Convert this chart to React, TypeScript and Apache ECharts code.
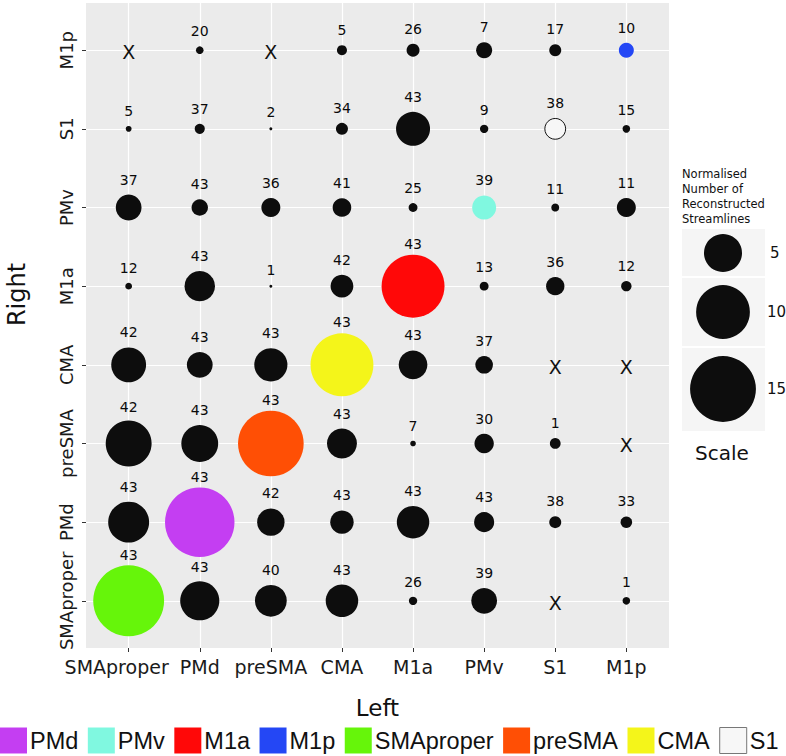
import React, { useEffect, useRef } from "react";
import * as echarts from "echarts";

// Regions (x = Left hemisphere, y = Right hemisphere), bottom-to-top on y
const regions = ["SMAproper", "PMd", "preSMA", "CMA", "M1a", "PMv", "S1", "M1p"];

// Number of subjects (out of 43) — rows are Right regions (same order as `regions`), columns are Left regions; null = X
const countSMAproper = [43, 43, 40, 43, 26, 39, null, 1];
const countPMd = [43, 43, 42, 43, 43, 43, 38, 33];
const countPreSMA = [42, 43, 43, 43, 7, 30, 1, null];
const countCMA = [42, 43, 43, 43, 43, 37, null, null];
const countM1a = [12, 43, 1, 42, 43, 13, 36, 12];
const countPMv = [37, 43, 36, 41, 25, 39, 11, 11];
const countS1 = [5, 37, 2, 34, 43, 9, 38, 15];
const countM1p = [null, 20, null, 5, 26, 7, 17, 10];

// Normalised number of reconstructed streamlines (bubble size)
const sizeSMAproper = [17.4, 5.3, 3.5, 3.65, 0.24, 2.3, null, 0.2];
const sizePMd = [5.8, 16.7, 2.6, 1.9, 3.65, 1.4, 0.5, 0.46];
const sizePreSMA = [7.3, 4.7, 14.9, 3.1, 0.11, 1.3, 0.4, null];
const sizeCMA = [4.2, 2.3, 3.8, 13.7, 2.85, 1.07, null, null];
const sizeM1a = [0.16, 3.2, 0.03, 1.8, 13.7, 0.27, 1.16, 0.37];
const sizePMv = [2.3, 0.93, 1.25, 1.2, 0.27, 2.0, 0.22, 1.25];
const sizeS1 = [0.12, 0.35, 0.03, 0.5, 4.0, 0.24, 1.5, 0.2];
const sizeM1p = [null, 0.2, null, 0.35, 0.58, 0.89, 0.5, 0.78];

const countRows = [countSMAproper, countPMd, countPreSMA, countCMA, countM1a, countPMv, countS1, countM1p];
const sizeRows = [sizeSMAproper, sizePMd, sizePreSMA, sizeCMA, sizeM1a, sizePMv, sizeS1, sizeM1p];

// Diagonal colours (legend)
const legendOrder = ["PMd", "PMv", "M1a", "M1p", "SMAproper", "preSMA", "CMA", "S1"];
const regionColors: Record<string, string> = {
  SMAproper: "#66f50a",
  PMd: "#c43ef2",
  preSMA: "#ff4f05",
  CMA: "#f4f51a",
  M1a: "#ff0808",
  PMv: "#80f8e0",
  S1: "#f7f7f7",
  M1p: "#2447f5",
};

// Size scale legend
const scaleValues = [5, 10, 15];
const scaleLabels = ["5", "10", "15"];

const SIZE_K = 17;
const sz = (v: number) => SIZE_K * Math.sqrt(v);
const FONT = "DejaVu Sans";

export default function App() {
  const ref = useRef<HTMLDivElement>(null);
  useEffect(() => {
    if (!ref.current) return;
    const chart = echarts.init(ref.current, null, { renderer: "svg" });

    const labelCfg = {
      show: true,
      position: "top",
      formatter: (p: any) => String(p.value[3]),
      fontSize: 14,
      fontFamily: FONT,
      color: "#0a0a0a",
    };
    const mkPoint = (xi: number, yi: number, s: number, c: number) => {
      const d = sz(s);
      return {
        value: [xi + 1, yi + 1, s, c],
        label: { distance: d > 36 ? Math.max(3, 8 - (d - 36) * 0.15) : 8 },
      };
    };

    const blackData: any[] = [];
    const xData: any[] = [];
    const diag: Record<string, any[]> = {};
    countRows.forEach((row, yi) => {
      row.forEach((c, xi) => {
        const s = sizeRows[yi][xi];
        if (c == null || s == null) {
          xData.push([xi + 1, yi + 1]);
          return;
        }
        const pt = mkPoint(xi, yi, s, c);
        if (xi === yi) diag[regions[xi]] = [pt];
        else blackData.push(pt);
      });
    });

    const series: any[] = [
      {
        type: "scatter",
        name: "other",
        data: blackData,
        symbolSize: (v: number[]) => sz(v[2]),
        itemStyle: { color: "#0d0d0d", opacity: 1 },
        label: labelCfg,
        z: 3,
      },
      ...regions.map((r) => ({
        type: "scatter",
        name: r,
        data: diag[r],
        symbolSize: (v: number[]) => sz(v[2]),
        itemStyle:
          r === "S1"
            ? { color: regionColors[r], borderColor: "#111", borderWidth: 1, opacity: 1 }
            : { color: regionColors[r], opacity: 1 },
        label: labelCfg,
        z: 3,
      })),
      {
        type: "scatter",
        name: "none",
        data: xData,
        symbolSize: 2,
        itemStyle: { color: "rgba(0,0,0,0)", opacity: 1 },
        label: {
          show: true,
          position: "inside",
          formatter: "X",
          fontSize: 19,
          fontFamily: FONT,
          color: "#111",
          offset: [0, 2],
        },
        z: 3,
      },
    ];

    const axisCommon = (isY: boolean, name: string) => ({
      type: "value",
      min: 0.4,
      max: 8.6,
      minInterval: 1,
      maxInterval: 1,
      splitNumber: 8,
      name,
      nameLocation: "middle",
      nameGap: isY ? 57 : 48,
      nameRotate: isY ? 90 : 0,
      nameTextStyle: {
        fontSize: isY ? 24 : 23,
        fontFamily: FONT,
        color: "#111",
        padding: isY ? [0, 0, 0, 62] : 0,
      },
      axisLine: { show: false },
      axisTick: {
        show: true,
        customValues: [1, 2, 3, 4, 5, 6, 7, 8],
        length: 4,
        lineStyle: { color: "#333", width: 1 },
      },
      axisLabel: {
        customValues: [1, 2, 3, 4, 5, 6, 7, 8],
        formatter: (v: number) => {
          if (!Number.isInteger(v)) return "";
          const t = regions[v - 1];
          return !isY && v === 1 ? "{shift|" + t + "}" : t;
        },
        rich: {
          shift: {
            fontSize: 19,
            fontFamily: FONT,
            color: "#1a1a1a",
            padding: [0, 24, 0, 0],
          },
        },
        fontSize: isY ? 18 : 19,
        fontFamily: FONT,
        color: "#1a1a1a",
        margin: isY ? 11 : 9,
        rotate: isY ? 90 : 0,
      },
      splitLine: { show: true, lineStyle: { color: "#ffffff", width: 1.2 } },
    });

    const graphics: any[] = [];
    graphics.push({
      type: "text",
      left: 682,
      top: 166,
      style: {
        text: "Normalised\nNumber of\nReconstructed\nStreamlines",
        fontSize: 11.5,
        lineHeight: 15,
        fontFamily: FONT,
        fill: "#111",
      },
    });
    const boxes = [
      [229, 47, 253],
      [278, 68, 312],
      [348, 83, 389],
    ];
    scaleValues.forEach((v, i) => {
      const [by, bh, cy] = boxes[i];
      graphics.push({
        type: "rect",
        shape: { x: 682, y: by, width: 83, height: bh },
        style: { fill: "#f5f5f5" },
      });
      graphics.push({
        type: "circle",
        shape: { cx: 723, cy, r: sz(v) / 2 },
        style: { fill: "#0d0d0d" },
      });
      graphics.push({
        type: "text",
        x: i === 0 ? 770 : 767,
        y: cy,
        style: {
          text: scaleLabels[i],
          fontSize: 15,
          fontFamily: FONT,
          fill: "#111",
          textAlign: "left",
          textVerticalAlign: "middle",
        },
      });
    });
    graphics.push({
      type: "text",
      x: 722,
      y: 453,
      style: {
        text: "Scale",
        fontSize: 20,
        fontFamily: FONT,
        fill: "#111",
        textAlign: "center",
        textVerticalAlign: "middle",
      },
    });

    chart.setOption({
      animation: false,
      backgroundColor: "#ffffff",
      grid: {
        left: 86,
        right: 117,
        top: 3,
        bottom: 108,
        show: true,
        backgroundColor: "#ebebeb",
        borderWidth: 0,
        containLabel: false,
        outerBoundsMode: "none",
      },
      xAxis: axisCommon(false, "Left"),
      yAxis: axisCommon(true, "Right"),
      legend: {
        data: legendOrder.map((n) =>
          n === "S1"
            ? { name: n, itemStyle: { color: "#f7f7f7", borderColor: "#777", borderWidth: 1 } }
            : { name: n }
        ),
        left: 0,
        top: 727,
        padding: 0,
        itemWidth: 27,
        itemHeight: 26,
        itemGap: 9.5,
        icon: "rect",
        selectedMode: false,
        textStyle: { fontSize: 23.5, fontFamily: "Liberation Sans", color: "#111", padding: [0, 0, 0, -2] },
      },
      graphic: graphics,
      series,
    });
    return () => chart.dispose();
  }, []);
  return (
    <div
      ref={ref}
      style={{ position: "fixed", left: 0, top: 0, width: 786, height: 756 }}
    />
  );
}
